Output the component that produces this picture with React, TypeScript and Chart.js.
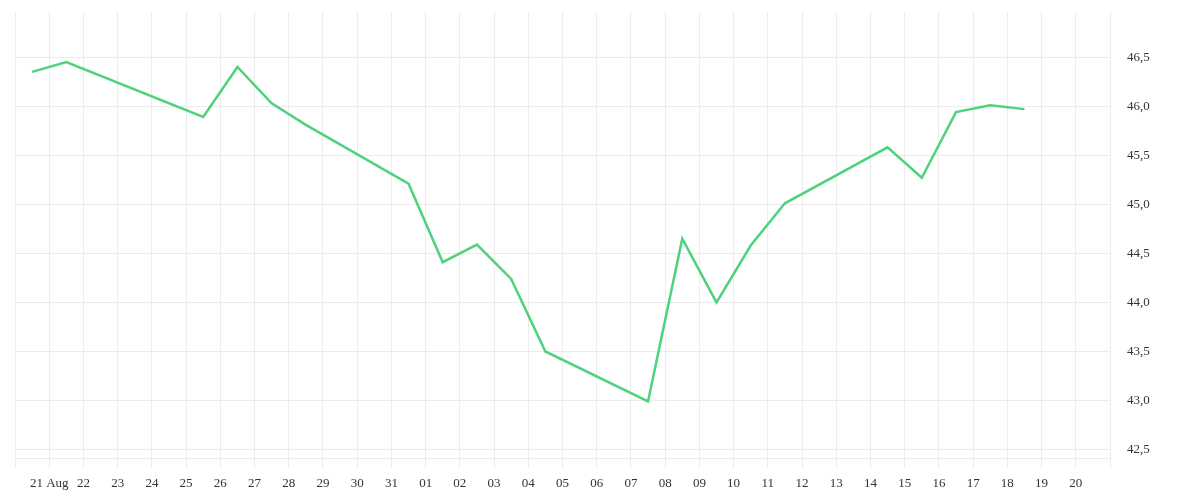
import React, { useEffect, useRef } from "react";
import { Chart, registerables } from "chart.js";

Chart.register(...registerables);

// Trading days (dates) and closing values
const dates: string[] = [
  "2018-08-20", "2018-08-21", "2018-08-25", "2018-08-26", "2018-08-27", "2018-08-28",
  "2018-08-31", "2018-09-01", "2018-09-02", "2018-09-03", "2018-09-04", "2018-09-07",
  "2018-09-08", "2018-09-09", "2018-09-10", "2018-09-11", "2018-09-14", "2018-09-15",
  "2018-09-16", "2018-09-17", "2018-09-18",
];
const values: number[] = [
  46.35, 46.45, 45.89, 46.40, 46.03, 45.81,
  45.21, 44.41, 44.59, 44.24, 43.50, 42.99,
  44.65, 44.00, 44.58, 45.01, 45.58, 45.27,
  45.94, 46.01, 45.97,
];

// X-axis: one tick per day from Aug 20 to Sep 21
const axisStart = "2018-08-20";
const xTickLabels: string[] = [
  "", "21 Aug", "22", "23", "24", "25", "26", "27", "28", "29", "30", "31",
  "01", "02", "03", "04", "05", "06", "07", "08", "09", "10",
  "11", "12", "13", "14", "15", "16", "17", "18", "19", "20", "",
];

const yMin = 42.41;
const yMax = 46.96;
const yStep = 0.5;

const DAY = 86400000;
const dayIndex = (d: string) =>
  Math.round((Date.parse(d + "T00:00:00Z") - Date.parse(axisStart + "T00:00:00Z")) / DAY);

export default function App() {
  const ref = useRef<HTMLCanvasElement | null>(null);

  useEffect(() => {
    if (!ref.current) return;
    const font = { family: "'Liberation Serif', 'Times New Roman', serif", size: 13 };
    const points = dates.map((d, i) => ({ x: dayIndex(d) + 0.5, y: values[i] }));
    const chart = new Chart(ref.current, {
      type: "line",
      data: {
        datasets: [
          {
            data: points,
            borderColor: "#4fd27d",
            borderWidth: 2.5,
            pointRadius: 0,
            pointHoverRadius: 0,
            tension: 0,
            fill: false,
          },
        ],
      },
      options: {
        animation: false,
        responsive: true,
        maintainAspectRatio: false,
        layout: { padding: { top: 4, left: 7, right: 0, bottom: 0 } },
        plugins: { legend: { display: false }, tooltip: { enabled: false } },
        scales: {
          x: {
            type: "linear",
            min: 0,
            max: xTickLabels.length - 1,
            grid: { color: "#ececec", tickLength: 10, lineWidth: 1 },
            border: { display: true, color: "#ececec" },
            afterFit: (scale: any) => {
              scale.paddingLeft = 0;
              scale.paddingRight = 0;
            },
            ticks: {
              stepSize: 1,
              autoSkip: false,
              maxRotation: 0,
              padding: 7,
              color: "#333",
              font,
              callback: (v: any) => {
                const i = Math.round(Number(v));
                return xTickLabels[i] ?? "";
              },
            },
          },
          y: {
            position: "right",
            min: yMin,
            max: yMax,
            grid: { color: "#ececec", drawTicks: false },
            border: { display: false },
            afterFit: (scale: any) => {
              scale.width = 82;
              scale.paddingTop = 0;
              scale.paddingBottom = 0;
            },
            ticks: {
              stepSize: yStep,
              includeBounds: false,
              padding: 17,
              color: "#333",
              font,
              callback: (v: any) => Number(v).toFixed(1).replace(".", ","),
            },
          },
        },
      },
    });
    return () => chart.destroy();
  }, []);

  return (
    <div style={{ width: 1184, height: 490 }}>
      <canvas ref={ref} />
    </div>
  );
}
